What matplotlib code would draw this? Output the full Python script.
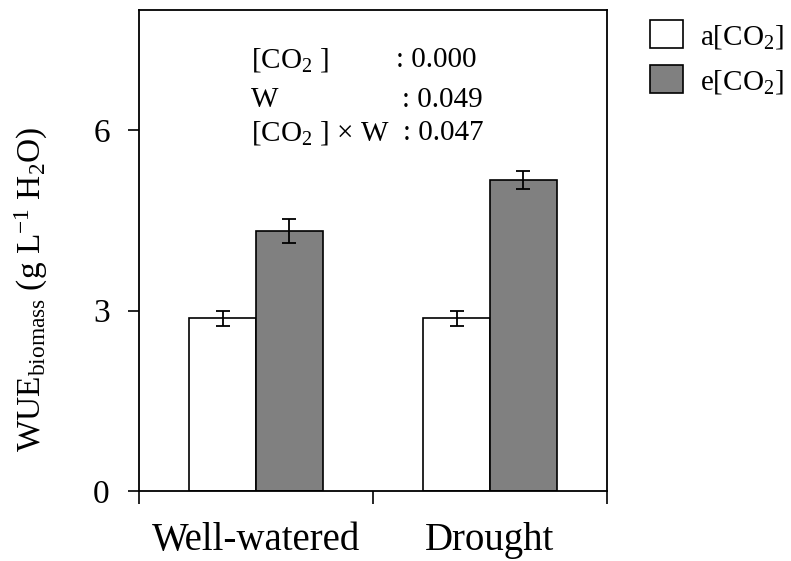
import matplotlib
matplotlib.use("Agg")
import matplotlib.pyplot as plt
import numpy as np
from matplotlib.patches import Patch

plt.rcParams['font.family'] = ['Liberation Serif', 'DejaVu Serif']
plt.rcParams['mathtext.fontset'] = 'custom'
plt.rcParams['mathtext.rm'] = 'Liberation Serif'
plt.rcParams['mathtext.it'] = 'Liberation Serif:italic'
plt.rcParams['mathtext.bf'] = 'Liberation Serif:bold'

categories = ['Well-watered', 'Drought']
series_names = ['a[CO$_2$]', 'e[CO$_2$]']
ambient = [2.87, 2.87]
ambient_err = [0.12, 0.12]
elevated = [4.33, 5.17]
elevated_err = [0.20, 0.15]
stats_labels = ['[CO$_2$ ]', 'W', '[CO$_2$ ] × W']
stats_values = [': 0.000', ': 0.049', ': 0.047']
yticks = [0, 3, 6]

fig = plt.figure(figsize=(7.91, 5.61), dpi=100)
ax = fig.add_axes([139/791, 70/561, 468/791, 481/561])

x = np.arange(len(categories)) + 0.5
w = 0.285
ek = dict(ecolor='black', elinewidth=1.3, capsize=5, capthick=1.3)
ax.bar(x - w/2, ambient, w, yerr=ambient_err, color='white', edgecolor='black',
       linewidth=1.2, error_kw=ek, label=series_names[0], zorder=2)
ax.bar(x + w/2, elevated, w, yerr=elevated_err, color='#808080', edgecolor='black',
       linewidth=1.2, error_kw=ek, label=series_names[1], zorder=2)

ax.set_xlim(0, 2)
ax.set_ylim(0, 8)
ax.set_xticks([0, 1, 2])
ax.set_xticklabels([])
ax.set_xticks(x, minor=True)
ax.set_xticklabels(categories, minor=True, fontsize=28)
ax.tick_params(axis='x', which='minor', length=0, pad=22)
ax.tick_params(axis='x', which='major', length=9, width=1.2, direction='out')
ax.set_yticks(yticks)
ax.set_yticklabels([str(v) for v in yticks], fontsize=24)
ax.tick_params(axis='y', length=8, width=1.2, direction='out', pad=13)
for s in ax.spines.values():
    s.set_linewidth(1.3)

ax.set_ylabel('WUE$_{\\mathrm{biomass}}$ (g L$^{\\mathrm{-1}}$ H$_2$O)', fontsize=24)
ax.yaxis.set_label_coords(-0.19, 0.42)

rows_y = [60, 100, 133]
val_x = [396, 402, 403]
for lab, val, yy, vx in zip(stats_labels, stats_values, rows_y, val_x):
    fig.text(251/791, 1 - yy/561, lab, fontsize=21, va='center', ha='left')
    fig.text(vx/791, 1 - yy/561, val, fontsize=21, va='center', ha='left')

handles = [Patch(facecolor='white', edgecolor='black', linewidth=1.2),
           Patch(facecolor='#808080', edgecolor='black', linewidth=1.2)]
fig.legend(handles, series_names, loc='upper left', bbox_to_anchor=(630/791, 1.0),
           frameon=False, fontsize=21, handlelength=1.1, handleheight=1.1,
           handletextpad=0.6, labelspacing=0.5, borderaxespad=0.3)

fig.savefig('out.png', dpi=100)
